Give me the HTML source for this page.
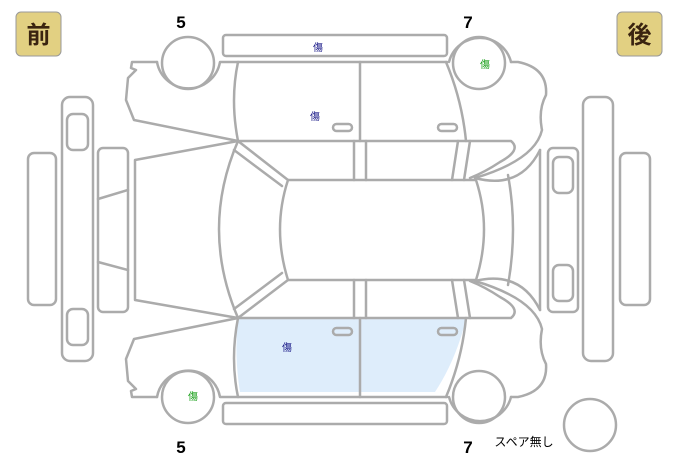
<!DOCTYPE html>
<html><head><meta charset="utf-8"><style>
html,body{margin:0;padding:0;background:#fff;width:678px;height:458px;overflow:hidden}
svg{display:block}
text{font-family:"Liberation Sans","Noto Sans CJK JP",sans-serif}
</style></head><body>
<svg width="678" height="458" viewBox="0 0 678 458">
<g fill="none" stroke="#ababab" stroke-width="2.5" stroke-linejoin="round" stroke-linecap="round">
<!-- door fill lower -->
<path d="M238,319 H466 Q456,360 435,392 H240 Q234,355 238,319Z" fill="#deedfb" stroke="none"/>
<!-- sill bars -->
<rect x="223" y="35" width="224" height="21" rx="3"/>
<rect x="223" y="403" width="224" height="21" rx="3"/>
<!-- wheels -->
<circle cx="188" cy="63" r="26"/><circle cx="479" cy="63" r="26"/>
<circle cx="188" cy="397" r="26"/><circle cx="479" cy="397" r="26"/>
<circle cx="590" cy="425" r="26"/>
<!-- upper side view -->
<path d="M157,62 A32,32 0 0 0 220,62 H447"/>
<path d="M157,62 H132 L131,68 L136,70 L128,78 L126,100 L134,120 L238,141"/>
<path d="M238,62 Q230,100 238,141"/>
<line x1="360" y1="62" x2="360" y2="141"/>
<path d="M446,62 Q462,100 466,141"/>
<path d="M511,62 A32,32 0 0 0 449,62"/>
<path d="M511,62 H518 Q548,68 546,95 Q538,110 542,130 Q535,160 475,178"/>
<path d="M238,141 H511 Q522,150 500,162 Q485,172 470,178"/>
<rect x="333" y="124" width="19" height="7" rx="3.5"/>
<rect x="438" y="124" width="19" height="7" rx="3.5"/>
<!-- lower side view -->
<path d="M157,397 A32,32 0 0 1 220,397 H447"/>
<path d="M157,397 H132 L131,391 L136,389 L128,381 L126,359 L134,339 L238,318"/>
<path d="M238,397 Q230,359 238,318"/>
<line x1="360" y1="318" x2="360" y2="397"/>
<path d="M446,397 Q462,359 466,318"/>
<path d="M511,397 A32,32 0 0 1 449,397"/>
<path d="M511,397 H518 Q548,391 546,364 Q538,349 542,329 Q535,299 475,281"/>
<path d="M238,318 H511 Q522,309 500,297 Q485,287 470,281"/>
<rect x="333" y="328" width="19" height="7" rx="3.5"/>
<rect x="438" y="328" width="19" height="7" rx="3.5"/>
<!-- top view -->
<path d="M238,141 L135,160 V300 L238,318"/>
<path d="M238,141 Q200,229 238,318"/>
<path d="M238,141 L288,180 M234,150 L282,186"/>
<path d="M238,318 L288,280 M234,309 L282,273"/>
<path d="M288,180 H476 Q492,229 476,280 H288 Q272,229 288,180Z"/>
<path d="M354,141 V180 M366,141 V180 M354,318 V280 M366,318 V280"/>
<path d="M458,141 L452,180 M470,141 L464,180 M458,318 L452,280 M470,318 L464,280"/>
<path d="M508,175 Q518,229 508,285"/>
<path d="M540,150 V310"/>
<path d="M475,178 Q520,190 540,150"/>
<path d="M475,281 Q520,270 540,310"/>
<!-- left bumpers/mirrors -->
<rect x="28" y="153" width="28" height="152" rx="6"/>
<rect x="62" y="97" width="31" height="264" rx="8"/>
<rect x="67" y="114" width="21" height="36" rx="6"/>
<rect x="67" y="309" width="21" height="36" rx="6"/>
<rect x="98" y="148" width="30" height="164" rx="5"/>
<path d="M98,199 L128,190 M98,262 L128,270"/>
<!-- right -->
<rect x="620" y="153" width="30" height="152" rx="6"/>
<rect x="583" y="97" width="30" height="264" rx="8"/>
<rect x="548" y="148" width="30" height="164" rx="5"/>
<rect x="553" y="157" width="20" height="36" rx="6"/>
<rect x="553" y="265" width="20" height="36" rx="6"/>
</g>
<!-- badges -->
<rect x="16" y="12" width="45" height="44" rx="5" fill="#e2d082" stroke="#999" stroke-width="1"/>
<text x="38.5" y="43" font-size="24" font-weight="bold" fill="#3a2410" text-anchor="middle">前</text>
<rect x="617" y="12" width="45" height="44" rx="5" fill="#e2d082" stroke="#999" stroke-width="1"/>
<text x="639.5" y="43" font-size="24" font-weight="bold" fill="#3a2410" text-anchor="middle">後</text>
<g font-size="17" font-weight="bold" fill="#000" text-anchor="middle">
<text x="181" y="28">5</text><text x="468" y="28">7</text>
<text x="181" y="453">5</text><text x="468" y="453">7</text>
</g>
<g font-size="10" fill="#1a1a88" text-anchor="middle">
<text x="318" y="51">傷</text><text x="315" y="120">傷</text><text x="287" y="351">傷</text>
</g>
<g font-size="10" fill="#1aa01a" text-anchor="middle">
<text x="485" y="68">傷</text><text x="193" y="400">傷</text>
</g>
<text x="524" y="446" font-size="12" fill="#000" text-anchor="middle">スペア無し</text>
</svg>
</body></html>
